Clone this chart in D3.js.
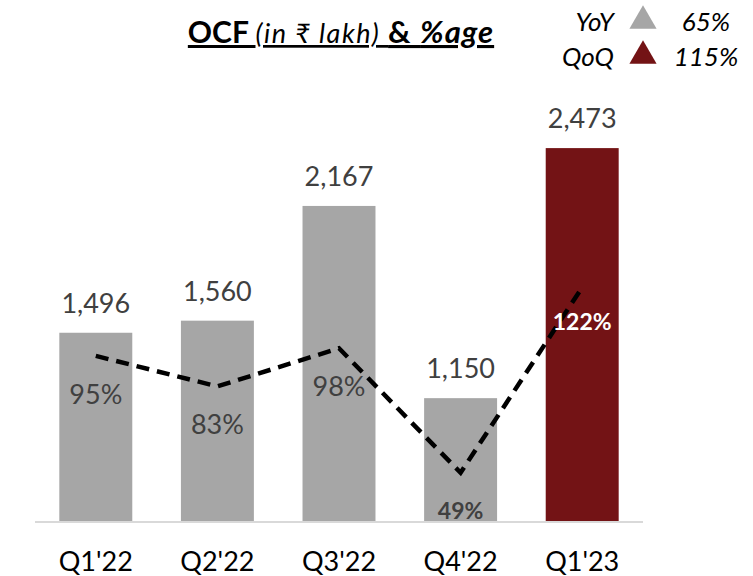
<!DOCTYPE html>
<html>
<head>
<meta charset="utf-8">
<script src="https://cdn.jsdelivr.net/npm/d3@7"></script>
<style>
  body { margin: 0; background: #fff; }
  svg { font-family: Lato, "Noto Sans", "DejaVu Sans", sans-serif; }
</style>
</head>
<body>
<div id="chart"></div>
<script>
const quarters = ["Q1'22", "Q2'22", "Q3'22", "Q4'22", "Q1'23"];
const ocf = [1496, 1560, 2167, 1150, 2473];
const ocfPct = [95, 83, 98, 49, 122];
const legendRows = [
  { label: "YoY", value: "65%" },
  { label: "QoQ", value: "115%" }
];

const width = 753, height = 576;
const grey = "#a6a6a6", maroon = "#731315", textCol = "#404040";

const svg = d3.select("#chart")
  .append("svg")
  .attr("width", width)
  .attr("height", height);

const x = d3.scaleBand().domain(quarters).range([35, 643]).paddingInner(0.4).paddingOuter(0.2);
const y = d3.scaleLinear().domain([500, 2500]).range([521, 143]);
const y2 = d3.scaleLinear().domain([30, 130]).range([521, 267]);

const data = quarters.map((q, i) => ({ q: q, v: ocf[i], p: ocfPct[i], last: i === quarters.length - 1 }));

// bars
svg.selectAll(".bar")
  .data(data)
  .enter()
  .append("rect")
  .attr("x", d => x(d.q))
  .attr("y", d => y(d.v))
  .attr("width", x.bandwidth())
  .attr("height", d => y(500) - y(d.v))
  .attr("fill", d => d.last ? maroon : grey);

// baseline
svg.append("line")
  .attr("x1", 35).attr("x2", 643)
  .attr("y1", y(500) + 1).attr("y2", y(500) + 1)
  .attr("stroke", "#d9d9d9")
  .attr("stroke-width", 2);

// value labels
svg.selectAll(".val")
  .data(data)
  .enter()
  .append("text")
  .attr("x", d => x(d.q) + x.bandwidth() / 2)
  .attr("y", d => y(d.v) - 20)
  .attr("text-anchor", "middle")
  .attr("font-size", "27px")
  .attr("fill", textCol)
  .text(d => d3.format(",")(d.v));

// dashed line
const line = d3.line()
  .x(d => x(d.q) + x.bandwidth() / 2)
  .y(d => y2(d.p));

svg.append("path")
  .datum(data)
  .attr("d", line)
  .attr("fill", "none")
  .attr("stroke", "#000")
  .attr("stroke-width", 4.5)
  .attr("stroke-dasharray", "13,8");

// percent labels
const boldPct = d => d.last || d.p < 60;
svg.selectAll(".pct")
  .data(data)
  .enter()
  .append("text")
  .attr("x", d => x(d.q) + x.bandwidth() / 2)
  .attr("y", d => y2(d.p) + (d.last ? 43 : boldPct(d) ? 46 : 48))
  .attr("text-anchor", "middle")
  .attr("font-size", d => boldPct(d) ? "23px" : "27px")
  .attr("font-weight", d => boldPct(d) ? "bold" : "normal")
  .attr("fill", d => d.last ? "#fff" : textCol)
  .text(d => d.p + "%");

// category labels
svg.selectAll(".cat")
  .data(data)
  .enter()
  .append("text")
  .attr("x", d => x(d.q) + x.bandwidth() / 2)
  .attr("y", 571)
  .attr("text-anchor", "middle")
  .attr("font-size", "27px")
  .attr("fill", "#000")
  .text(d => d.q);

// title
const title = svg.append("text")
  .attr("x", 341)
  .attr("y", 43)
  .attr("text-anchor", "middle")
  .attr("fill", "#000")
  .style("text-decoration", "underline");
title.append("tspan").attr("font-size", "30px").attr("font-weight", "bold").text("OCF ");
title.append("tspan").attr("font-size", "27px").attr("font-style", "italic").attr("letter-spacing", "1.5px").text("(in ₹ lakh) ");
title.append("tspan").attr("font-size", "31px").attr("font-weight", "bold").attr("letter-spacing", "1px").text("& ");
title.append("tspan").attr("font-size", "31px").attr("font-weight", "bold").attr("font-style", "italic").attr("letter-spacing", "1px").text("%age");

// legend
const tri = d3.symbol().type(d3.symbolTriangle).size(320);
const leg = svg.selectAll(".leg")
  .data(legendRows)
  .enter()
  .append("g")
  .attr("transform", (d, i) => `translate(0, ${31 + i * 35})`);

leg.append("text")
  .attr("x", 614)
  .attr("text-anchor", "end")
  .attr("font-size", "26px")
  .attr("font-style", "italic")
  .attr("fill", "#000")
  .text(d => d.label);

leg.append("path")
  .attr("d", tri)
  .attr("transform", "translate(643, -10)")
  .attr("fill", (d, i) => i === 0 ? grey : maroon);

leg.append("text")
  .attr("x", 706)
  .attr("text-anchor", "middle")
  .attr("font-size", "26px")
  .attr("font-style", "italic")
  .attr("fill", "#000")
  .text(d => d.value);
</script>
</body>
</html>
